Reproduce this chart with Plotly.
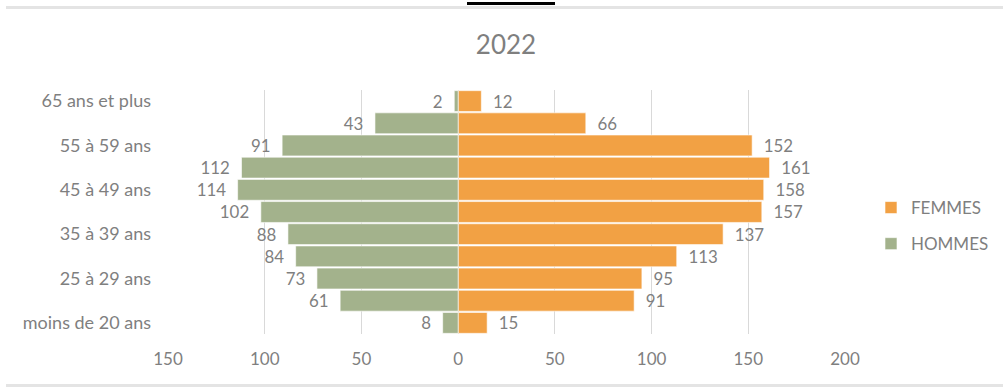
import plotly.graph_objects as go

categories = ["moins de 20 ans", "20 à 24 ans", "25 à 29 ans", "30 à 34 ans", "35 à 39 ans",
              "40 à 44 ans", "45 à 49 ans", "50 à 54 ans", "55 à 59 ans", "60 à 64 ans",
              "65 ans et plus"]
femmes = [15, 91, 95, 113, 137, 157, 158, 161, 152, 66, 12]
hommes = [8, 61, 73, 84, 88, 102, 114, 112, 91, 43, 2]
shown_labels = ["moins de 20 ans", "25 à 29 ans", "35 à 39 ans", "45 à 49 ans",
                "55 à 59 ans", "65 ans et plus"]
x_ticks = [-150, -100, -50, 0, 50, 100, 150, 200]
x_ticktext = ["150", "100", "50", "0", "50", "100", "150", "200"]

W, H = 1003, 387
L, R, T, B = 168, 845, 90, 334
FONT = "Lato, 'Open Sans', sans-serif"
GRAY = "#7f7f7f"
NB = "\u00a0"

def px_x(p):
    return (p - L) / (R - L)

def px_y(p):
    return (B - p) / (B - T)

fig = go.Figure()
fig.add_trace(go.Bar(
    y=categories, x=femmes, orientation="h", name="FEMMES",
    marker=dict(color="#F2A144", line=dict(color="white", width=0.6)),
    text=[NB * 2 + str(v) for v in femmes], textposition="outside",
    textfont=dict(color=GRAY, size=17, family=FONT), cliponaxis=False,
    legendgroup="f",
))
fig.add_trace(go.Bar(
    y=categories, x=[-v for v in hommes], orientation="h", name="HOMMES",
    marker=dict(color="#A3B28C", line=dict(color="white", width=0.6)),
    text=[str(v) + NB * 2 for v in hommes], textposition="outside",
    textfont=dict(color=GRAY, size=17, family=FONT), cliponaxis=False,
    legendgroup="h",
))

shapes = [
    dict(type="rect", xref="paper", yref="paper", x0=px_x(6), x1=px_x(1003),
         y0=px_y(9), y1=px_y(6), fillcolor="#e4e4e4", line=dict(width=0), layer="above"),
    dict(type="rect", xref="paper", yref="paper", x0=px_x(467), x1=px_x(555),
         y0=px_y(5), y1=px_y(2), fillcolor="black", line=dict(width=0), layer="above"),
    dict(type="rect", xref="paper", yref="paper", x0=px_x(6), x1=px_x(1003),
         y0=px_y(387), y1=px_y(384), fillcolor="#e4e4e4", line=dict(width=0), layer="above"),
]

fig.update_layout(
    width=W, height=H,
    margin=dict(l=L, r=W - R, t=T, b=H - B, autoexpand=False),
    paper_bgcolor="white", plot_bgcolor="white",
    barmode="relative", bargap=0.06,
    font=dict(family=FONT, color=GRAY),
    title=dict(text="2022", x=506 / W, xanchor="center", y=1 - 45 / H, yanchor="middle",
               font=dict(size=26, color=GRAY, family=FONT)),
    xaxis=dict(range=[-150, 200], tickvals=x_ticks, ticktext=x_ticktext,
               showgrid=True, gridcolor="#d9d9d9", gridwidth=1, zeroline=False,
               showline=False, ticks="", tickfont=dict(size=17, color=GRAY),
               ticklabelstandoff=13),
    yaxis=dict(categoryorder="array", categoryarray=categories,
               tickmode="array", tickvals=shown_labels, ticktext=shown_labels,
               showgrid=False, zeroline=False, showline=False, ticks="",
               tickfont=dict(size=18, color=GRAY), ticklabelstandoff=16),
    legend=dict(x=px_x(871), xanchor="left", y=px_y(190), yanchor="top",
                font=dict(size=17, color=GRAY), tracegroupgap=11,
                bgcolor="rgba(0,0,0,0)"),
    shapes=shapes,
)

fig.write_html("out.html")
